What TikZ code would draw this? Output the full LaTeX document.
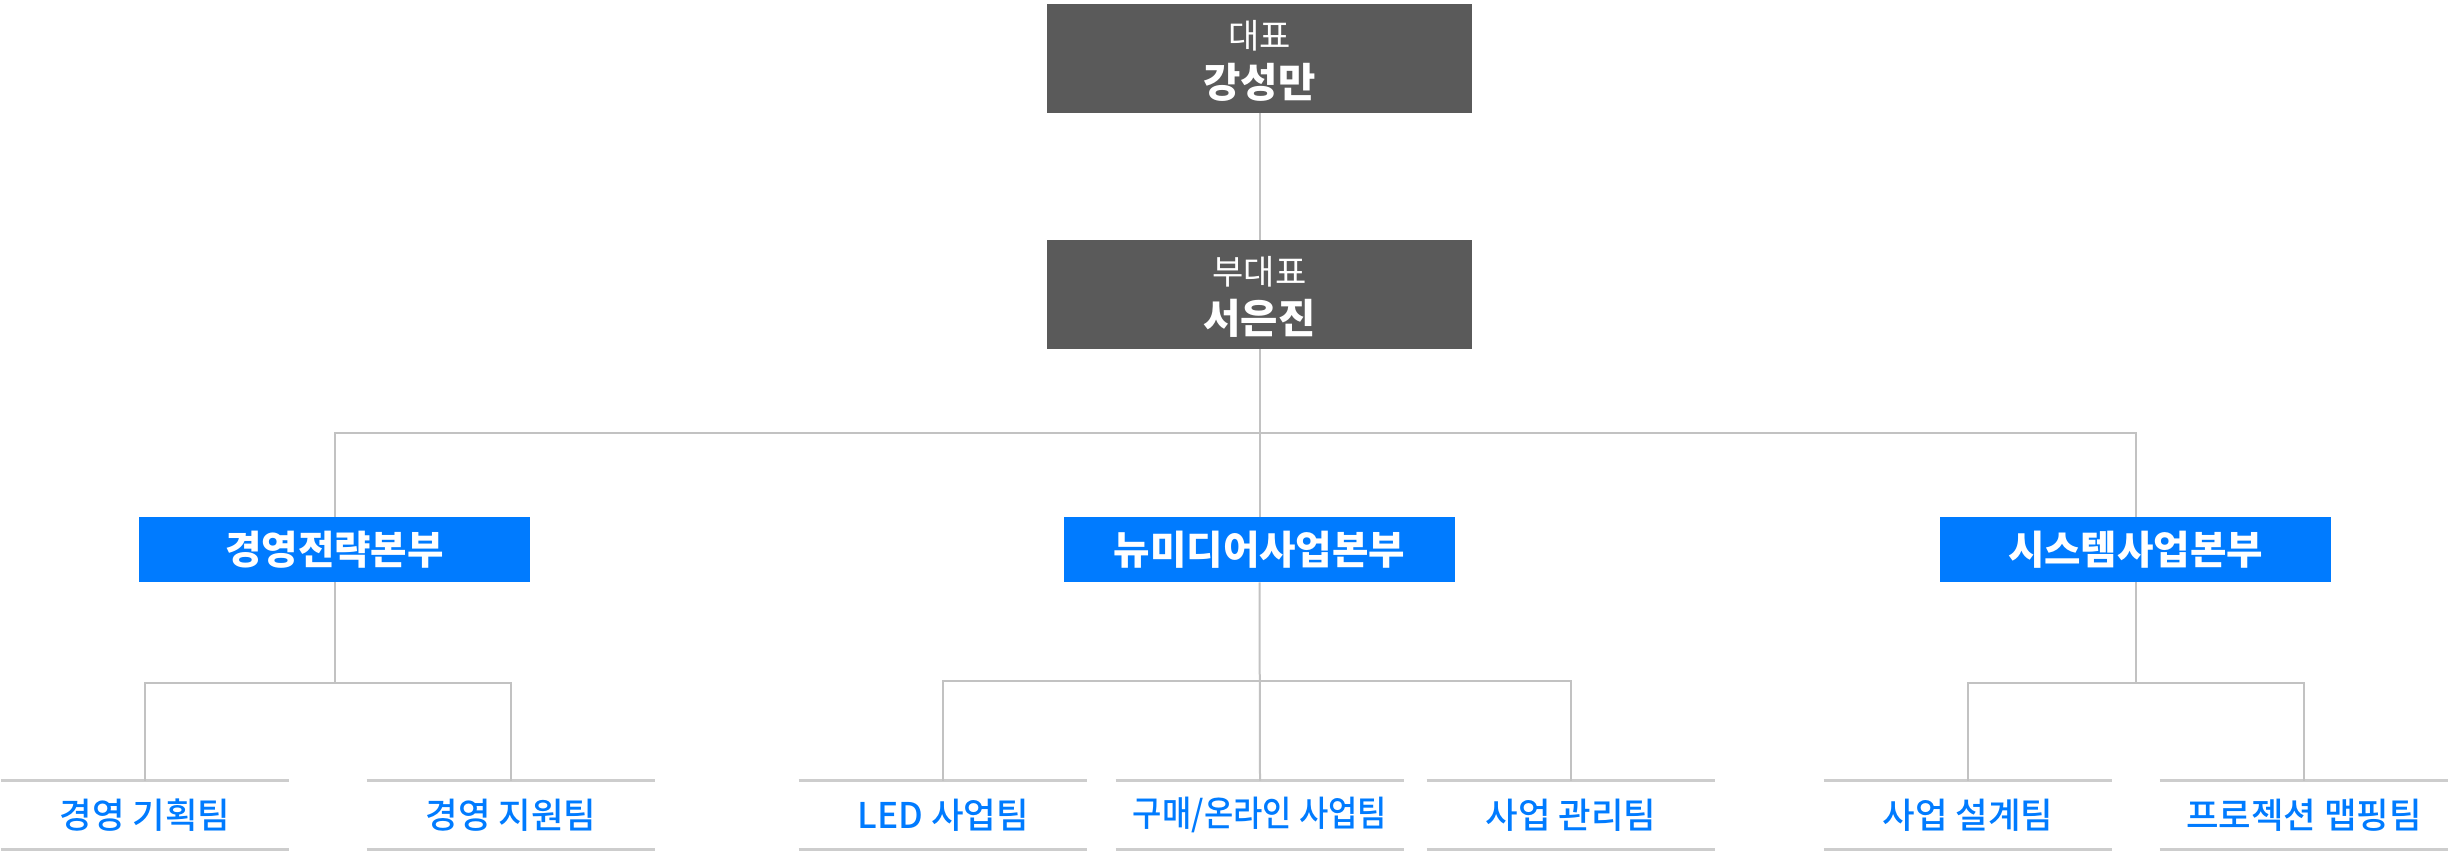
\documentclass[tikz,border=0pt]{standalone}
\usepackage{fontspec}
\usepackage{graphicx}
\setmainfont{Noto Sans CJK KR}
\newfontfamily\krmed{Noto Sans CJK KR Medium}
\definecolor{boxgray}{HTML}{5A5A5A}
\definecolor{divblue}{HTML}{007BFF}
\definecolor{linegray}{HTML}{C2C2C2}
\definecolor{teamline}{HTML}{CDCDCD}
\tikzset{
  topbox/.style={fill=boxgray, draw=none, inner sep=0pt, minimum width=212.5pt, minimum height=54.5pt},
  titletext/.style={text=white, font=\fontsize{17pt}{20pt}\selectfont, inner sep=0pt},
  nametext/.style={text=white, font=\fontsize{20.3pt}{24pt}\selectfont\bfseries, inner sep=0pt},
  divbox/.style={fill=divblue, draw=none, text=white, inner sep=0pt, minimum width=195.5pt, minimum height=32.5pt, font=\fontsize{19.8pt}{24pt}\selectfont\bfseries},
  teambox/.style={draw=none, text=divblue, inner sep=0pt, minimum width=144pt, minimum height=34pt, font=\krmed\fontsize{17.7pt}{21pt}\selectfont},
  conn/.style={draw=linegray, line width=1pt},
  tline/.style={draw=teamline, line width=1.3pt}
}
\begin{document}
\begin{tikzpicture}[x=0.5pt,y=-0.5pt]
\useasboundingbox (0,0) rectangle (2451,864);
% top boxes
\node[topbox] (ceo) at (1259.5,58.5) {};
\node[titletext] (ceo-t) at (1259.5,36) {대표};
\node[nametext] (ceo-n) at (1259.5,82) {강성만};
\node[topbox] (vp) at (1259.5,294.5) {};
\node[titletext] (vp-t) at (1259.5,272) {부대표};
\node[nametext] (vp-n) at (1259.5,318) {서은진};
% divisions
\node[divbox] (div1) at (334.5,549.5) {경영전략본부};
\node[divbox] (div2) at (1259.5,549.5) {뉴미디어사업본부};
\node[divbox] (div3) at (2135.5,549.5) {시스템사업본부};
% teams
\node[teambox] (t11) at (145,815) {경영 기획팀};
\node[teambox] (t12) at (511,815) {경영 지원팀};
\node[teambox] (t21) at (943,815) {LED 사업팀};
\node[teambox] (t22) at (1260,815) {\scalebox{0.9}[1]{구매/온라인 사업팀}};
\node[teambox] (t23) at (1571,815) {사업 관리팀};
\node[teambox] (t31) at (1968,815) {사업 설계팀};
\node[teambox] (t32) at (2304,815) {프로젝션 맵핑팀};
\foreach \t in {t11,t12,t21,t22,t23,t31,t32}{
  \draw[tline] (\t.north west) -- (\t.north east);
  \draw[tline] (\t.south west) -- (\t.south east);
}
% bus coordinates
\coordinate (b1) at (1259.5,433);
\coordinate (b2) at (334.5,683);
\coordinate (b3) at (1259.5,681);
\coordinate (b4) at (2135.5,683);
% connectors
\draw[conn] (ceo.south) -- (vp.north);
\draw[conn] (vp.south) -- (div2.north);
\draw[conn] (div1.north) |- (b1) -| (div3.north);
\draw[conn] (div1.south) -- (b2);
\draw[conn] (t11.north) |- (b2) -| (t12.north);
\draw[conn] (div2.south) -- (t22.north);
\draw[conn] (t21.north) |- (b3) -| (t23.north);
\draw[conn] (div3.south) -- (b4);
\draw[conn] (t31.north) |- (b4) -| (t32.north);
\end{tikzpicture}
\end{document}
